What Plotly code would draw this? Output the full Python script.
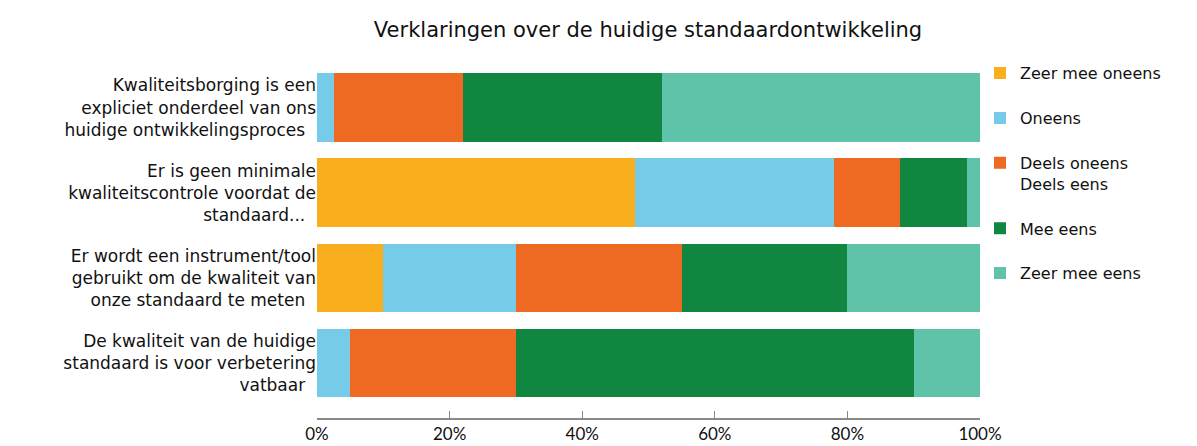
import plotly.graph_objects as go

categories = [
    "Kwaliteitsborging is een<br>expliciet onderdeel van ons<br>huidige ontwikkelingsproces",
    "Er is geen minimale<br>kwaliteitscontrole voordat de<br>standaard...",
    "Er wordt een instrument/tool<br>gebruikt om de kwaliteit van<br>onze standaard te meten",
    "De kwaliteit van de huidige<br>standaard is voor verbetering<br>vatbaar",
]
series_names = ["Zeer mee oneens", "Oneens", "Deels oneens<br>Deels eens", "Mee eens", "Zeer mee eens"]
zeer_mee_oneens = [0, 48, 10, 0]
oneens = [2.5, 30, 20, 5]
deels = [19.5, 10, 25, 25]
mee_eens = [30, 10, 25, 60]
zeer_mee_eens = [48, 2, 20, 10]
values = [zeer_mee_oneens, oneens, deels, mee_eens, zeer_mee_eens]
colors = ["#F9AE1E", "#76CBE9", "#EE6A22", "#108641", "#5FC3AA"]
tick_vals = [0, 20, 40, 60, 80, 100]
tick_text = ["0%", "20%", "40%", "60%", "80%", "100%"]

fig = go.Figure()
for i, (name, vals, col) in enumerate(zip(series_names, values, colors)):
    fig.add_trace(go.Bar(
        y=categories, x=vals, name=name, orientation="h",
        marker=dict(color=col, line=dict(width=0)),
        legendgroup=str(i),
    ))

fig.update_layout(
    barmode="stack",
    bargap=0.195,
    width=1197, height=446,
    margin=dict(l=309, r=225, t=57, b=36, autoexpand=False),
    paper_bgcolor="white", plot_bgcolor="white",
    font=dict(family="DejaVu Sans", size=17, color="#111111"),
    title=dict(text="Verklaringen over de huidige standaardontwikkeling",
               x=0.5347, xanchor="center", y=0.952, yanchor="middle",
               font=dict(size=21, color="#111111")),
    legend=dict(x=1.0, xanchor="left", y=1.025, yanchor="top",
                font=dict(size=16), tracegroupgap=21, valign="top",
                traceorder="grouped", itemwidth=30, maxheight=420,
                bgcolor="rgba(0,0,0,0)"),
    showlegend=True,
)
fig.update_xaxes(range=[0, 100], tickvals=tick_vals, ticktext=tick_text,
                 showgrid=False, zeroline=False, showline=True,
                 linecolor="#888888", linewidth=1.5, ticks="inside",
                 ticklen=7, tickcolor="#888888", automargin=False,
                 ticklabelstandoff=0,
                 tickfont=dict(family="Lato", size=17, color="#111111"))
fig.update_yaxes(range=[3.645, -0.5], showgrid=False, ticks="",
                 ticksuffix="  ", automargin=False, tickfont=dict(size=17))

fig.write_html("out.html")
